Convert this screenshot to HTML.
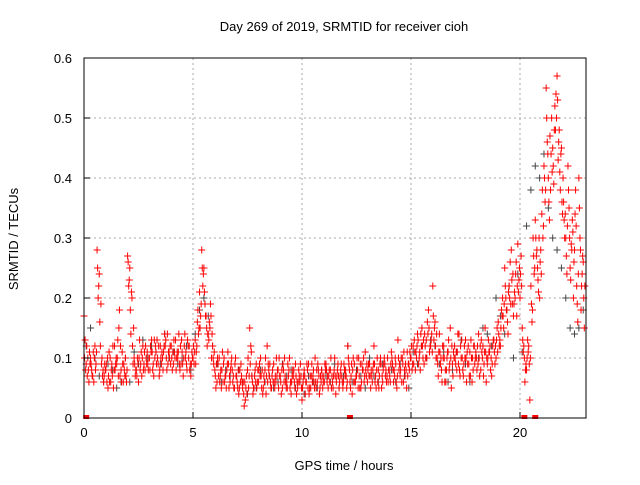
<!DOCTYPE html>
<html><head><meta charset="utf-8"><style>
body{margin:0;background:#fff;}
svg text{font-family:"Liberation Sans",sans-serif;font-size:13px;fill:#000;}
</style></head><body>
<svg id="chart" width="640" height="480" xmlns="http://www.w3.org/2000/svg">
<rect width="640" height="480" fill="#fff"/>
<g id="grid"></g>
<g id="gray"></g>
<g id="red"></g>
<rect x="84" y="58" width="502" height="360" fill="none" stroke="#000" stroke-width="1"/>
<g id="axes"></g>
<text x="344" y="31" text-anchor="middle">Day 269 of 2019, SRMTID for receiver cioh</text>
<text x="344" y="470" text-anchor="middle">GPS time / hours</text>
<text transform="translate(18,239) rotate(-90)" text-anchor="middle">SRMTID / TECUs</text>
</svg>
<script>
const xTicks=[0,5,10,15,20];
const yTicks=[0,0.1,0.2,0.3,0.4,0.5,0.6];
const yTickLabels=["0","0.1","0.2","0.3","0.4","0.5","0.6"];
const redA=[.17,.09,.08,.10,.07,.12,.28,.24,.09,.06,.08,.05,.10,.07,.12,.09,.15,.08,.06,.10,.27,.25,.20,.10,.08,.06,.09,.12,.08,.11,.10,.13,.07,.11,.09,.12,.10,.14,.08,.11,.12,.09,.13,.10,.08,.11,.12,.09,.10,.07,.10,.13,.16,.21,.28,.25,.17,.14,.19,.12,.08,.06,.10,.05,.09,.07,.11,.06,.08,.05,.07,.04,.09,.06,.03,.08,.15,.07,.05,.09,.06,.10,.04,.08,.12,.07,.05,.09,.06,.08,.07,.05,.10,.06,.08,.04,.07,.09,.05,.06,.03,.08,.06,.09,.05,.07,.10,.06,.04,.08,.07,.09,.05,.08,.06,.10,.07,.05,.09,.06,.08,.12,.06,.04,.09,.07,.10,.05,.08,.11,.06,.09,.07,.12,.05,.08,.10,.06,.09,.07,.08,.11,.06,.09,.13,.07,.10,.08,.05,.09,.10,.12,.08,.14,.11,.15,.09,.13,.18,.12,.22,.16,.10,.14,.08,.12,.06,.11,.15,.09,.12,.08,.14,.10,.07,.13,.09,.11,.06,.12,.10,.14,.08,.12,.15,.09,.11,.07,.13,.10,.16,.12,.20,.25,.18,.22,.28,.17,.24,.29,.20,.15,.10,.08,.12,.22,.30,.33,.25,.20,.34,.42,.55,.40,.38,.45,.52,.57,.48,.45,.36,.30,.42,.25,.33,.28,.22,.40,.18,.26];
const redB=[.13,.07,.11,.08,.06,.09,.20,.12,.07,.09,.06,.11,.08,.05,.09,.13,.07,.11,.08,.06,.22,.14,.09,.07,.10,.13,.07,.09,.10,.08,.12,.08,.10,.13,.07,.09,.11,.13,.09,.12,.08,.11,.10,.14,.09,.07,.10,.13,.08,.11,.09,.11,.14,.17,.22,.19,.12,.16,.10,.09,.05,.09,.07,.11,.06,.08,.05,.09,.07,.10,.05,.08,.06,.02,.07,.05,.12,.04,.08,.06,.09,.05,.07,.04,.09,.06,.08,.05,.07,.10,.04,.08,.06,.09,.05,.07,.06,.04,.08,.07,.06,.04,.08,.05,.09,.06,.05,.08,.07,.05,.09,.06,.08,.05,.07,.04,.09,.07,.06,.08,.05,.09,.07,.10,.06,.08,.05,.09,.06,.07,.09,.05,.08,.06,.10,.07,.05,.09,.08,.06,.06,.09,.07,.05,.08,.10,.06,.09,.07,.11,.08,.13,.10,.09,.14,.10,.12,.16,.11,.14,.13,.10,.07,.09,.12,.06,.10,.08,.05,.11,.09,.14,.07,.10,.12,.06,.09,.13,.08,.10,.12,.07,.11,.09,.06,.13,.08,.12,.09,.15,.12,.18,.15,.20,.14,.26,.19,.21,.17,.23,.27,.11,.08,.13,.03,.16,.24,.27,.21,.28,.30,.36,.46,.33,.50,.39,.54,.43,.38,.34,.30,.24,.35,.29,.20,.38,.16,.30,.24,.15];
const redC=[.10,.12,.06,.09,.11,.08,.25,.16,.10,.07,.09,.07,.06,.12,.08,.10,.18,.06,.09,.07,.26,.18,.12,.09,.07,.10,.11,.08,.12,.09,.08,.11,.13,.09,.12,.10,.08,.12,.14,.10,.10,.13,.08,.11,.12,.09,.14,.08,.12,.09,.12,.09,.18,.15,.25,.21,.15,.13,.17,.10,.07,.10,.06,.08,.10,.05,.09,.08,.06,.09,.06,.05,.07,.04,.05,.10,.09,.06,.07,.05,.08,.07,.05,.10,.06,.09,.07,.06,.10,.05,.06,.09,.07,.05,.10,.06,.08,.07,.06,.09,.05,.07,.09,.04,.07,.08,.06,.09,.05,.07,.06,.08,.07,.10,.05,.07,.08,.06,.07,.09,.07,.10,.05,.08,.06,.10,.07,.06,.10,.08,.08,.07,.06,.09,.08,.05,.09,.08,.07,.10,.07,.10,.08,.06,.10,.08,.09,.07,.11,.08,.12,.09,.11,.13,.08,.12,.14,.10,.15,.13,.17,.12,.09,.11,.06,.10,.08,.13,.10,.07,.10,.11,.08,.13,.09,.10,.12,.07,.10,.09,.08,.10,.13,.07,.11,.10,.12,.09,.11,.13,.14,.15,.17,.22,.16,.20,.23,.19,.26,.21,.24,.13,.06,.10,.09,.19,.27,.30,.23,.26,.38,.40,.50,.36,.44,.42,.48,.53,.41,.36,.33,.27,.38,.23,.31,.34,.19,.35,.22,.20];
const redD=[.08,.10,.09,.07,.10,.11,.22,.19,.08,.08,.10,.06,.09,.08,.10,.07,.12,.09,.07,.08,.23,.21,.15,.08,.09,.08,.10,.11,.09,.10,.11,.09,.12,.10,.08,.11,.12,.10,.11,.09,.11,.10,.11,.09,.13,.10,.11,.12,.09,.10,.11,.12,.15,.19,.24,.17,.14,.15,.14,.11,.09,.07,.08,.06,.07,.09,.07,.10,.05,.07,.08,.06,.05,.06,.04,.07,.11,.05,.06,.08,.07,.08,.06,.07,.08,.05,.06,.07,.08,.07,.08,.06,.05,.07,.06,.08,.05,.06,.07,.05,.07,.06,.05,.07,.06,.05,.08,.07,.06,.06,.08,.07,.06,.07,.08,.06,.07,.08,.05,.07,.06,.08,.09,.06,.07,.05,.09,.08,.07,.09,.07,.08,.09,.07,.06,.09,.07,.10,.06,.08,.09,.08,.10,.07,.09,.06,.11,.08,.09,.10,.09,.11,.12,.10,.12,.13,.10,.14,.12,.11,.15,.14,.11,.10,.10,.08,.11,.09,.12,.10,.11,.09,.12,.08,.10,.11,.07,.10,.12,.11,.09,.12,.10,.11,.10,.11,.10,.13,.12,.11,.13,.17,.19,.18,.21,.19,.24,.20,.22,.25,.22,.12,.09,.11,.10,.18,.25,.28,.30,.24,.32,.38,.44,.47,.41,.48,.50,.46,.44,.40,.34,.32,.30,.28,.26,.32,.24,.28,.27,.22];
const grayV=[.12,.15,.10,.07,.06,.09,.08,.05,.06,.10,.06,.11,.09,.13,.10,.12,.11,.09,.14,.10,.11,.09,.10,.12,.08,.14,.18,.20,.17,.12,.09,.06,.08,.07,.05,.08,.06,.04,.07,.05,.08,.06,.07,.05,.06,.09,.07,.08,.05,.06,.04,.07,.06,.05,.08,.07,.06,.09,.05,.07,.12,.06,.08,.07,.05,.10,.07,.06,.09,.07,.08,.06,.09,.07,.05,.11,.09,.12,.10,.13,.12,.09,.11,.06,.08,.11,.13,.09,.06,.12,.10,.15,.14,.12,.20,.17,.14,.22,.10,.24,.11,.32,.38,.42,.40,.44,.35,.30,.28,.25,.20,.15,.14,.15,.18];
const zeroRedT=[0.1,12.2,20.2,20.7];
const NS="http://www.w3.org/2000/svg";
const X=t=>84+t*21.8;
const Y=v=>418-v*600;
function mk(tag,attrs,parent){const e=document.createElementNS(NS,tag);for(const k in attrs)e.setAttribute(k,attrs[k]);parent.appendChild(e);return e;}
const grid=document.getElementById('grid'),axes=document.getElementById('axes');
xTicks.forEach(t=>{
  if(t>0){const l=mk('line',{x1:X(t),x2:X(t),y1:58,y2:418,stroke:'#aaa','stroke-dasharray':'2,3'},grid);
  
  }
  const tk=mk('line',{x1:X(t),x2:X(t),y1:418,y2:412,stroke:'#000'},axes);
  
  
  const tx=mk('text',{x:X(t),y:437,'text-anchor':'middle'},axes);tx.textContent=t;
  
  
});
yTicks.forEach((v,i)=>{
  if(v>0&&v<0.6){const l=mk('line',{x1:84,x2:586,y1:Y(v),y2:Y(v),stroke:'#aaa','stroke-dasharray':'2,3'},grid);
  
  }
  const tk=mk('line',{x1:84,x2:90,y1:Y(v),y2:Y(v),stroke:'#000'},axes);
  
  
  const tx=mk('text',{x:72,y:Y(v)+5,'text-anchor':'end'},axes);tx.textContent=yTickLabels[i];
  
  
});
function plus(g,t,v,color){
  const x=X(t),y=Y(v);
  const p=mk('path',{d:`M${x-3.5},${y}H${x+3.5}M${x},${y-3.5}V${y+3.5}`,stroke:color,'stroke-width':1,fill:'none'},g);
  
  
}
const gG=document.getElementById('gray'),gR=document.getElementById('red');
grayV.forEach((v,i)=>plus(gG,i*0.2+0.1,v,'#444'));
redA.forEach((v,i)=>plus(gR,i*0.1,v,'#f00'));
redC.forEach((v,i)=>plus(gR,i*0.1+0.025,v,'#f00'));
redB.forEach((v,i)=>plus(gR,i*0.1+0.05,v,'#f00'));
redD.forEach((v,i)=>plus(gR,i*0.1+0.075,v,'#f00'));
zeroRedT.forEach(t=>{const r=mk('rect',{x:X(t)-3,y:415,width:6,height:4,fill:'#f00'},gR);
  
  });
</script>
</body></html>
